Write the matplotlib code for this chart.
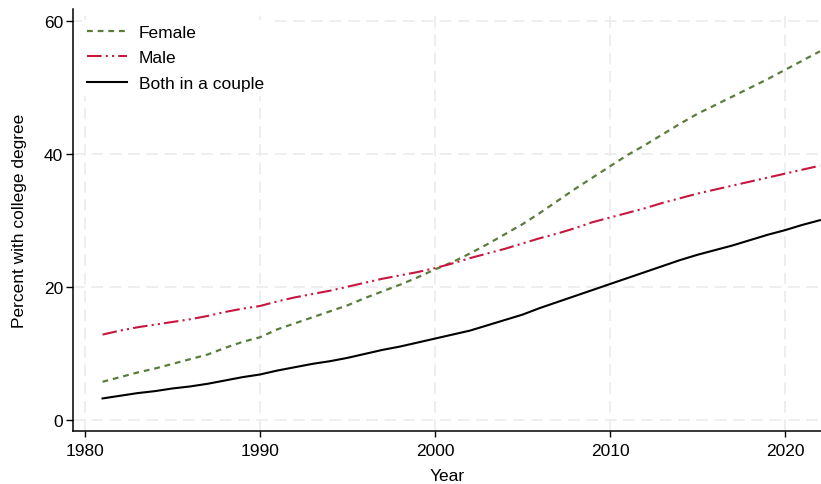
import matplotlib
matplotlib.use("Agg")
import matplotlib.pyplot as plt

years = list(range(1981, 2023))

female = [5.7, 6.4, 7.1, 7.7, 8.4, 9.1, 9.8, 10.8, 11.7, 12.4,
          13.6, 14.5, 15.4, 16.3, 17.2, 18.3, 19.3, 20.3, 21.4, 22.6,
          23.7, 25.0, 26.4, 27.9, 29.4, 31.1, 32.9, 34.7, 36.4, 38.1,
          39.8, 41.3, 42.9, 44.5, 46.0, 47.3, 48.6, 49.9, 51.2, 52.6,
          54.0, 55.4]

male = [12.8, 13.4, 13.9, 14.3, 14.7, 15.1, 15.6, 16.2, 16.7, 17.1,
        17.8, 18.4, 18.9, 19.4, 20.0, 20.6, 21.2, 21.7, 22.2, 22.8,
        23.5, 24.3, 25.0, 25.7, 26.5, 27.3, 28.0, 28.8, 29.7, 30.4,
        31.1, 31.8, 32.6, 33.3, 34.0, 34.6, 35.2, 35.8, 36.4, 37.0,
        37.6, 38.2]

couple = [3.2, 3.6, 4.0, 4.3, 4.7, 5.0, 5.4, 5.9, 6.4, 6.8,
          7.4, 7.9, 8.4, 8.8, 9.3, 9.9, 10.5, 11.0, 11.6, 12.2,
          12.8, 13.4, 14.2, 15.0, 15.8, 16.8, 17.7, 18.6, 19.5, 20.4,
          21.3, 22.2, 23.1, 24.0, 24.8, 25.5, 26.2, 27.0, 27.8, 28.5,
          29.3, 30.0]

x_ticks = [1980, 1990, 2000, 2010, 2020]
y_ticks = [0, 20, 40, 60]

FS = 12.5
plt.rcParams["font.family"] = ["Liberation Sans", "DejaVu Sans"]
plt.rcParams["font.size"] = FS

fig = plt.figure(figsize=(8.21, 4.85), dpi=100)
ax = fig.add_axes([0.0889, 0.1087, 0.9111, 0.8707])

ax.plot(years, female, color="#5b7d3c", lw=1.6, dashes=(2.6, 2.2),
        label="Female")
ax.plot(years, male, color="#c8163f", lw=1.5, dashes=(7, 2, 1, 2, 1, 2),
        label="Male")
ax.plot(years, couple, color="black", lw=1.5, label="Both in a couple")

ax.set_xlim(1979.31, 2022.06)
ax.set_ylim(-1.74, 61.76)
ax.set_xticks(x_ticks)
ax.set_yticks(y_ticks)

ax.grid(True, color="#ebebeb", lw=1.2, dashes=(7, 4))
ax.set_axisbelow(True)

for side in ("top", "right"):
    ax.spines[side].set_visible(False)
for side in ("left", "bottom"):
    ax.spines[side].set_linewidth(1.1)
    ax.spines[side].set_color("black")

ax.tick_params(axis="y", direction="out", length=5, width=1.0,
               color="black", labelsize=FS, pad=2)
ax.tick_params(axis="x", direction="out", length=4, width=1.0,
               color="black", labelsize=FS, pad=4.5)

ax.set_xlabel("Year", fontsize=FS, labelpad=7)
ax.set_ylabel("Percent with college degree", fontsize=FS, labelpad=12)

leg = ax.legend(loc="upper left", bbox_to_anchor=(0.0, 0.995),
                frameon=True, fancybox=False, handlelength=2.3,
                handletextpad=0.7, labelspacing=0.58, borderpad=0.3,
                fontsize=FS)
leg.get_frame().set_edgecolor("none")
leg.get_frame().set_facecolor("white")
leg.get_frame().set_alpha(1.0)

fig.savefig("out.png", dpi=100)
